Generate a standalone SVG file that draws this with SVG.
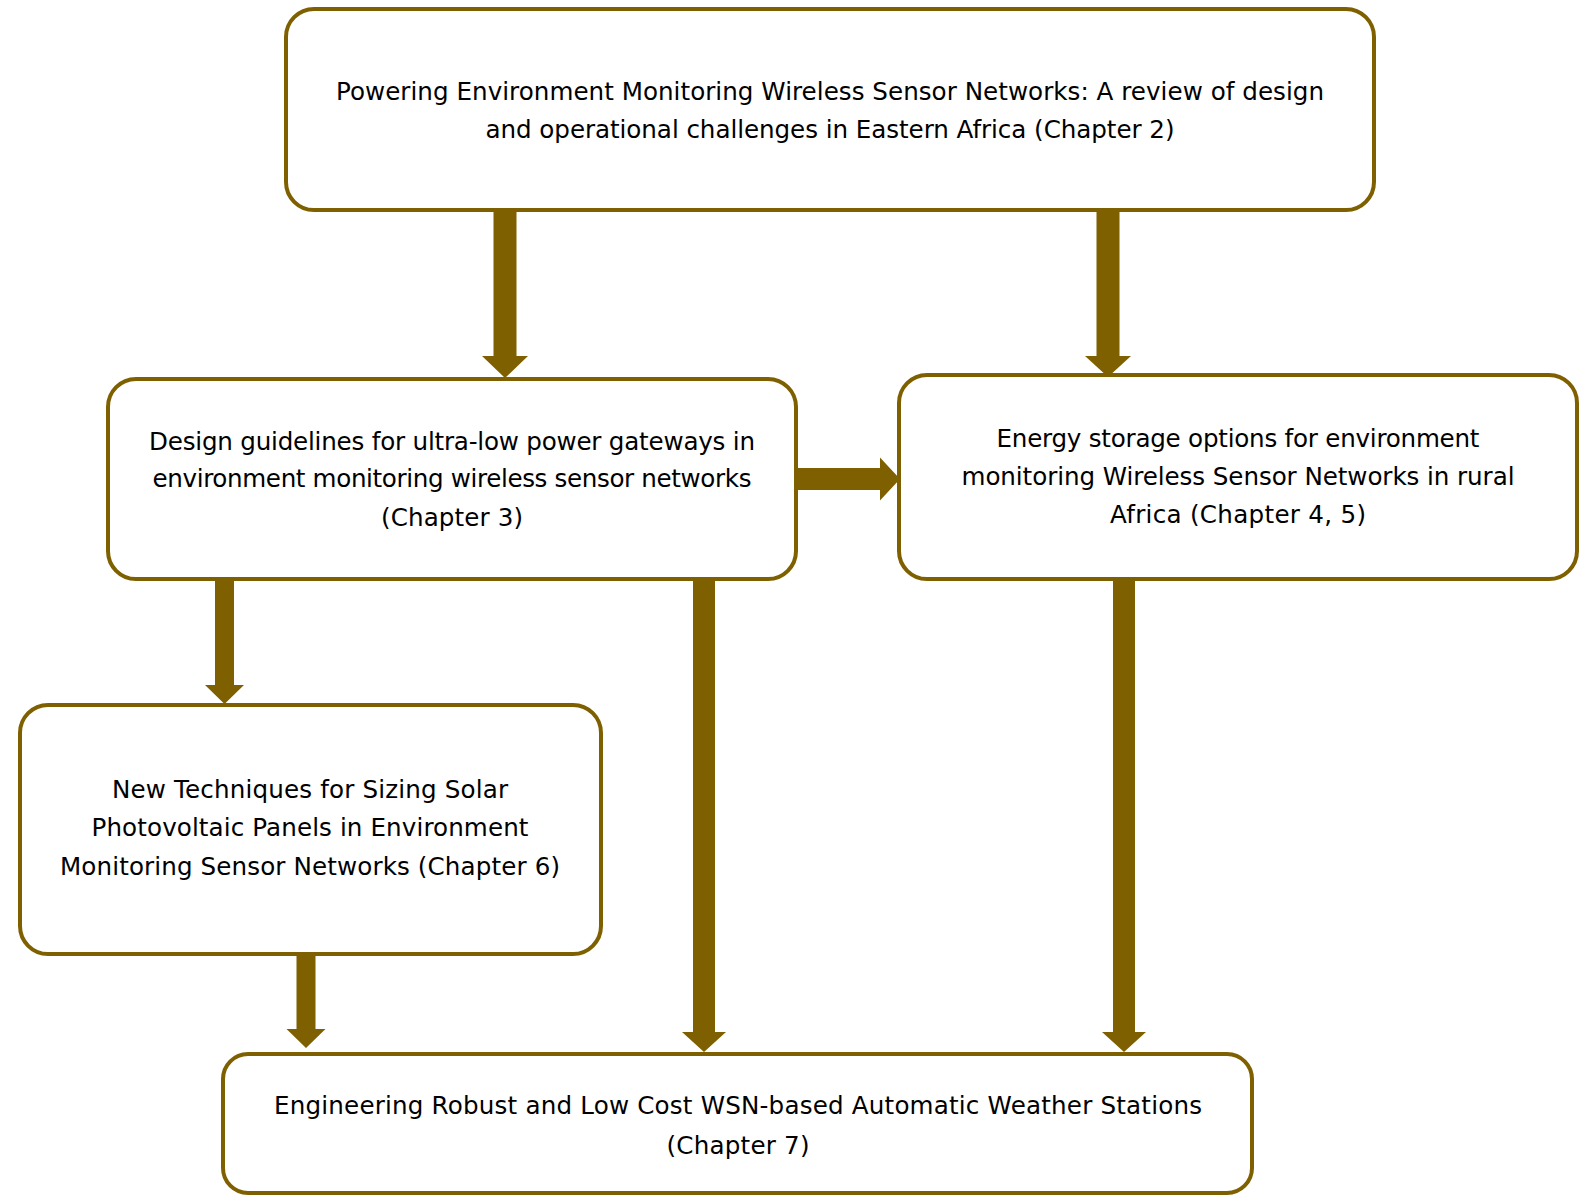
<svg xmlns="http://www.w3.org/2000/svg" width="1589" height="1196" viewBox="0 0 1589 1196">
<style>
.box{fill:#ffffff;stroke:#7f6000;stroke-width:4}
.arr{fill:#7f6000;stroke:none}
text{font-family:"DejaVu Sans","Liberation Sans",sans-serif;font-size:24.6px;fill:#000000;text-anchor:middle}
</style>
<rect width="1589" height="1196" fill="#ffffff"/>
<g id="connectors">
<polygon class="arr" points="493.5,211 516.5,211 516.5,356 528,356 505,378 482,356 493.5,356"/>
<polygon class="arr" points="1096.5,211 1119.5,211 1119.5,356 1131,356 1108,377 1085,356 1096.5,356"/>
<polygon class="arr" points="796,468 880,468 880,457.5 900,479 880,500.5 880,490 796,490"/>
<polygon class="arr" points="215,579 234,579 234,685 244,685 224.5,704 205,685 215,685"/>
<polygon class="arr" points="693,579 715,579 715,1032 726,1032 704,1052 682,1032 693,1032"/>
<polygon class="arr" points="1113,579 1135,579 1135,1032 1146,1032 1124,1052 1102,1032 1113,1032"/>
<polygon class="arr" points="296.5,954 315.5,954 315.5,1029 325.5,1029 306,1048 286.5,1029 296.5,1029"/>
</g>
<g id="node-ch2">
<rect class="box" x="286" y="9" width="1088" height="201" rx="28" ry="28"/>
<text x="830" y="100" textLength="988" lengthAdjust="spacing">Powering Environment Monitoring Wireless Sensor Networks: A review of design</text>
<text x="830" y="138" textLength="689" lengthAdjust="spacing">and operational challenges in Eastern Africa (Chapter 2)</text>
</g>
<g id="node-ch3">
<rect class="box" x="108" y="379" width="688" height="200" rx="28" ry="28"/>
<text x="452" y="450" textLength="606" lengthAdjust="spacing">Design guidelines for ultra-low power gateways in</text>
<text x="452" y="487" textLength="599" lengthAdjust="spacing">environment monitoring wireless sensor networks</text>
<text x="452" y="526" textLength="142" lengthAdjust="spacing">(Chapter 3)</text>
</g>
<g id="node-ch45">
<rect class="box" x="899" y="375" width="678" height="204" rx="28" ry="28"/>
<text x="1238" y="447" textLength="483" lengthAdjust="spacing">Energy storage options for environment</text>
<text x="1238" y="485" textLength="553" lengthAdjust="spacing">monitoring Wireless Sensor Networks in rural</text>
<text x="1238" y="523" textLength="256" lengthAdjust="spacing">Africa (Chapter 4, 5)</text>
</g>
<g id="node-ch6">
<rect class="box" x="20" y="705" width="581" height="249" rx="28" ry="28"/>
<text x="310" y="798" textLength="396" lengthAdjust="spacing">New Techniques for Sizing Solar</text>
<text x="310" y="836" textLength="437" lengthAdjust="spacing">Photovoltaic Panels in Environment</text>
<text x="310" y="875" textLength="500" lengthAdjust="spacing">Monitoring Sensor Networks (Chapter 6)</text>
</g>
<g id="node-ch7">
<rect class="box" x="223" y="1054" width="1029" height="139" rx="25" ry="25"/>
<text x="738" y="1114" textLength="928" lengthAdjust="spacing">Engineering Robust and Low Cost WSN-based Automatic Weather Stations</text>
<text x="738" y="1154" textLength="143" lengthAdjust="spacing">(Chapter 7)</text>
</g>
</svg>
